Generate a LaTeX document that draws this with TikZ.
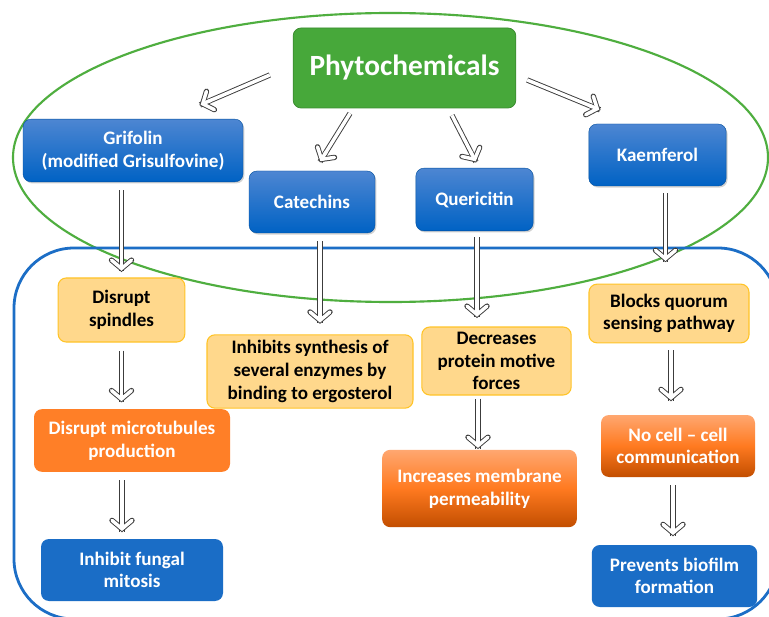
\documentclass[tikz,border=0pt]{standalone}
\usepackage{fontspec}
\setmainfont{Carlito}
\usetikzlibrary{calc,shadows,decorations.markings}

\definecolor{phygreen}{HTML}{47A83A}
\definecolor{phyedge}{HTML}{3B8C30}
\definecolor{ringgreen}{HTML}{4FAE3F}
\definecolor{bluetop}{HTML}{4D86D2}
\definecolor{bluebot}{HTML}{0062C4}
\definecolor{blueflat}{HTML}{1A6DC6}
\definecolor{frameblue}{HTML}{1C6EC6}
\definecolor{yelfill}{HTML}{FFD88C}
\definecolor{yeledge}{HTML}{FFC427}
\definecolor{orflat}{HTML}{FF7F27}
\definecolor{ortop}{HTML}{FFA770}
\definecolor{ormid}{HTML}{FF7A20}
\definecolor{orbot}{HTML}{C24E00}
\definecolor{arrline}{HTML}{3C3C3C}

\tikzset{
	box/.style={rounded corners=6pt, align=center, font=\bfseries\fontsize{14.3}{17}\selectfont, inner sep=2pt},
	compound/.style={box, top color=bluetop, bottom color=bluebot, draw=bluebot!80!black, line width=0.3pt, text=white,
		drop shadow={opacity=0.35, shadow xshift=1pt, shadow yshift=-1.2pt}},
	effect/.style={box, fill=yelfill, draw=yeledge, line width=0.8pt, text=black},
	process/.style={box, fill=orflat, text=white},
	shaded/.style={box, top color=ortop, bottom color=orbot, middle color=ormid, text=white},
	result/.style={box, fill=blueflat, text=white},
	% hollow arrow: double shaft and double chevron head
	arr/.style={draw=arrline, line width=0.7pt, double=white, double distance=2.6pt,
		decoration={markings, mark=at position 1 with {
			\draw[arrline, line width=4pt, line cap=round, line join=miter] (-8.5pt,7.5pt) -- (-2.2pt,0) -- (-8.5pt,-7.5pt);
			\draw[white, line width=2.6pt, line cap=round, line join=miter] (-8.5pt,7.5pt) -- (-2.2pt,0) -- (-8.5pt,-7.5pt);
			\draw[white, line width=2.6pt] (-9pt,0) -- (-3pt,0);
		}}, postaction={decorate}},
}

\begin{document}
\begin{tikzpicture}[x=0.75pt, y=-0.75pt]
	\clip (0,0) rectangle (769,617);
	\fill[white] (0,0) rectangle (769,617);
	% outer frames
	\draw[ringgreen, line width=1.6pt] (390.5,157.5) ellipse [x radius=377.5, y radius=144.5];
	\draw[frameblue, line width=2.1pt, rounded corners=45pt] (14,248) rectangle (778,619);

	% top
	\node[box, fill=phygreen, draw=phyedge, line width=0.6pt, text=white, font=\bfseries\fontsize{22}{26}\selectfont,
		minimum width=167pt, minimum height=60pt] (phyto) at (404.5,68) {Phytochemicals};

	% compounds
	\node[compound, minimum width=165pt, minimum height=47pt] (grif) at (133,150.5) {Grifolin\\(modified Grisulfovine)};
	\node[compound, minimum width=94.5pt, minimum height=46.5pt] (cat) at (312,202) {Catechins};
	\node[compound, minimum width=88pt, minimum height=47pt] (quer) at (474.5,199.5) {Quericitin};
	\node[compound, minimum width=103pt, minimum height=46.5pt] (kaem) at (657.5,155) {Kaemferol};

	% first effects
	\node[effect, minimum width=95pt, minimum height=48pt] (spind) at (121.5,310) {Disrupt\\spindles};
	\node[effect, minimum width=154.5pt, minimum height=55pt] (inh) at (310,371.5) {Inhibits synthesis of\\several enzymes by\\binding to ergosterol};
	\node[effect, minimum width=112pt, minimum height=51pt] (dec) at (496.5,361) {Decreases\\protein motive\\forces};
	\node[effect, minimum width=120pt, minimum height=44pt] (quorum) at (669,313.5) {Blocks quorum\\sensing pathway};

	% further steps
	\node[process, minimum width=147pt, minimum height=47pt] (micro) at (132,440.5) {Disrupt microtubules\\production};
	\node[shaded, minimum width=146pt, minimum height=58pt] (perm) at (479.5,488.5) {Increases membrane\\permeability};
	\node[shaded, minimum width=115.5pt, minimum height=46.5pt] (comm) at (678,446) {No cell -- cell\\communication};
	\node[result, minimum width=136.5pt, minimum height=46.5pt] (mitosis) at (132,570) {Inhibit fungal\\mitosis};
	\node[result, minimum width=124pt, minimum height=46.5pt] (biofilm) at (674.5,576) {Prevents biofilm\\formation};

	% arrows
	\draw[arr] ([shift={(-23,7)}]phyto.west) -- ([shift={(67,-14)}]grif.north);
	\draw[arr] ([shift={(-54.5,5)}]phyto.south) -- ([shift={(8,-9)}]cat.north);
	\draw[arr] ([shift={(47.5,7)}]phyto.south) -- ([shift={(1.5,-6)}]quer.north);
	\draw[arr] ([shift={(11,12)}]phyto.east) -- ([shift={(-57.5,-14)}]kaem.north);

	\draw[arr] ($(spind.north |- grif.south)+(0,8)$) -- ($(spind.north)+(0,-6)$);
	\draw[arr] ($(cat.south)+(8,8)$) -- ($(cat.south |- inh.north)+(8,-11)$);
	\draw[arr] ($(quer.south)+(2.5,6)$) -- ($(quer.south |- dec.north)+(2.5,-9)$);
	\draw[arr] ($(kaem.south)+(8,7)$) -- ($(kaem.south |- quorum.north)+(8,-22)$);

	\draw[arr] ($(spind.south)+(0,8)$) -- ($(spind.south |- micro.north)+(0,-7)$);
	\draw[arr] ($(micro.south)+(-10,8)$) -- ($(micro.south |- mitosis.north)+(-10,-7)$);
	\draw[arr] ($(dec.south)+(-18.5,3)$) -- ($(dec.south |- perm.north)+(-18.5,-1)$);
	\draw[arr] ($(quorum.south)+(2,7)$) -- ($(quorum.south |- comm.north)+(2,-14)$);
	\draw[arr] ($(comm.south)+(-5,8)$) -- ($(comm.south |- biofilm.north)+(-5,-9)$);
\end{tikzpicture}
\end{document}
